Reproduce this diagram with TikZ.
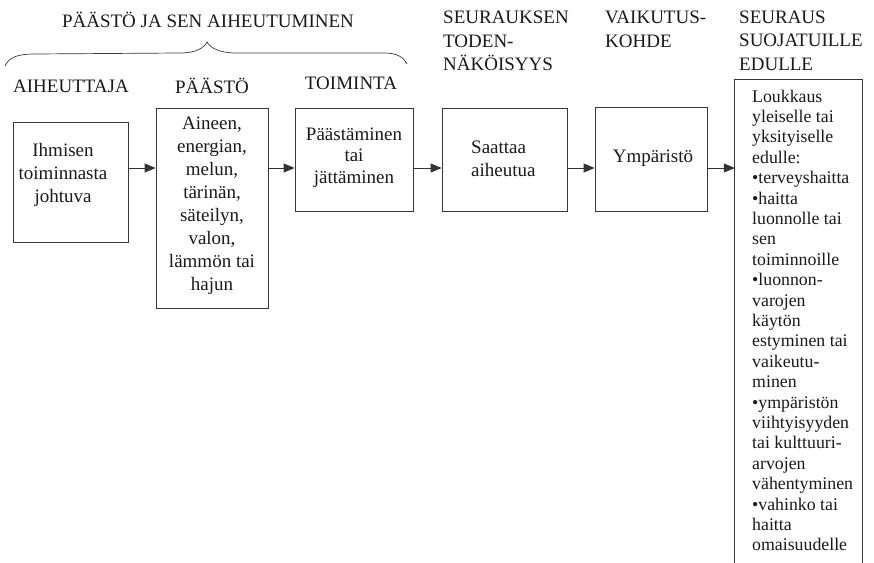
\documentclass[tikz,border=0pt]{standalone}
\usepackage{fontspec}
\setmainfont{Liberation Serif}
\usetikzlibrary{arrows.meta}
\begin{document}
\begin{tikzpicture}[x=1pt,y=-1pt,
  ink/.style={text=black!90},
  box/.style={draw=black!78, line width=0.8pt, inner sep=0pt},
  head/.style={ink, inner sep=0pt, font=\fontsize{19}{23.5}\selectfont},
  body/.style={ink, inner sep=0pt, font=\fontsize{19}{23}\selectfont},
  small/.style={ink, inner sep=0pt, align=left, font=\fontsize{17.8}{20.4}\selectfont},
  arr/.style={draw=black!80, line width=0.8pt, -{Triangle[length=11pt,width=9pt]}}]
\useasboundingbox (0,0) rectangle (874,562);

% headings
\node[head] (hmain) at (208,20) {PÄÄSTÖ JA SEN AIHEUTUMINEN};
\draw[black!78, line width=0.7pt] (5,66) .. controls (9,57) and (18,54) .. (35,54)
  -- (180,53) .. controls (196,53) and (204,48) .. (207,42)
  .. controls (210,48) and (220,53) .. (236,53)
  -- (385,53) .. controls (398,53) and (404,58) .. (407,64);
\node[head] (h1) at (71,86) {AIHEUTTAJA};
\node[head] (h2) at (212,86) {PÄÄSTÖ};
\node[head] (h3) at (351,83) {TOIMINTA};
\node[head, align=left, anchor=west] (h4) at (443,41) {SEURAUKSEN\\TODEN-\\NÄKÖISYYS};
\node[head, align=left, anchor=west] (h5) at (605,29.5) {VAIKUTUS-\\KOHDE};
\node[head, align=left, anchor=west] (h6) at (739,40.5) {SEURAUS\\SUOJATUILLE\\EDULLE};

% boxes
\node[box, minimum width=115pt, minimum height=120pt] (b1) at (70.5,182) {};
\node[box, minimum width=112pt, minimum height=200pt] (b2) at (212,208) {};
\node[box, minimum width=118pt, minimum height=103pt] (b3) at (354,159.5) {};
\node[box, minimum width=125pt, minimum height=103pt] (b4) at (504.5,159.5) {};
\node[box, minimum width=112pt, minimum height=104pt] (b5) at (651,159) {};
\node[inner sep=0pt, minimum width=127pt, minimum height=490pt] (b6) at (798.5,325) {};
\draw[black!78, line width=0.8pt] (b6.south west) -- (b6.north west) -- (b6.north east) -- (b6.south east);

% box texts
\node[body, align=center] (t1) at (63,175) {Ihmisen\\toiminnasta\\johtuva};
\node[body, align=center] (t2) at (212,206) {Aineen,\\energian,\\melun,\\tärinän,\\säteilyn,\\valon,\\lämmön tai\\hajun};
\node[body, align=center, font=\fontsize{19}{21.5}\selectfont] (t3) at (354,157.5) {Päästäminen\\tai\\jättäminen};
\node[body, align=left, anchor=west] (t4) at (471,159) {Saattaa\\aiheutua};
\node[body] (t5) at (653,158) {Ympäristö};
\node[small, anchor=west] (t6) at (752,320.5) {Loukkaus\\yleiselle tai\\yksityiselle\\edulle:\\•terveyshaitta\\•haitta\\luonnolle tai\\sen\\toiminnoille\\•luonnon-\\varojen\\käytön\\estyminen tai\\vaikeutu-\\minen\\•ympäristön\\viihtyisyyden\\tai kulttuuri-\\arvojen\\vähentyminen\\•vahinko tai\\haitta\\omaisuudelle};

% connectors
\coordinate (ay) at (0,168);
\draw[arr] (b1.east |- ay) -- (b2.west |- ay);
\draw[arr] (b2.east |- ay) -- (b3.west |- ay);
\draw[arr] (b3.east |- ay) -- (b4.west |- ay);
\draw[arr] (b4.east |- ay) -- (b5.west |- ay);
\draw[arr] (b5.east |- ay) -- (b6.west |- ay);
\end{tikzpicture}
\end{document}
